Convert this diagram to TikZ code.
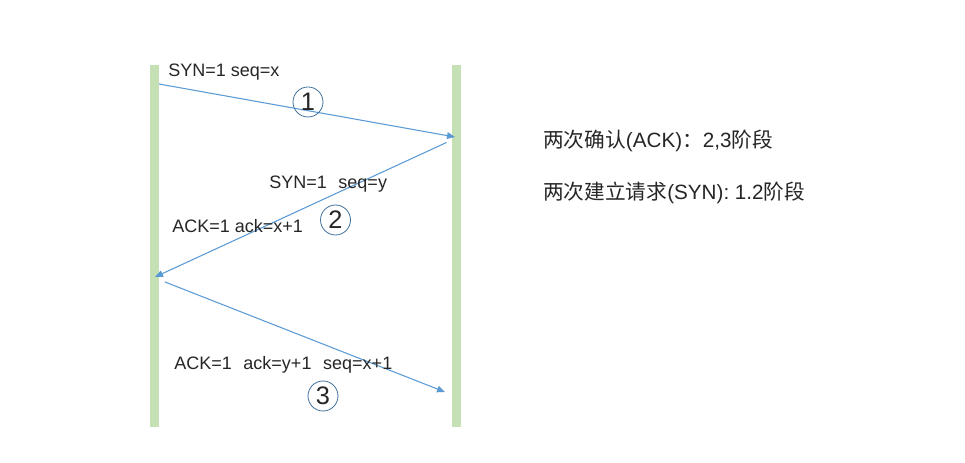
\documentclass[tikz,border=0pt]{standalone}
\usepackage{fontspec}
\setmainfont{Liberation Sans}
\newfontfamily\cjk{Noto Sans CJK SC}
\usetikzlibrary{arrows.meta}
\definecolor{barg}{HTML}{C5E0B4}
\definecolor{arrb}{HTML}{5B9BD5}
\definecolor{circb}{HTML}{41719C}
\newcommand\gp{\hspace{0.65em}}
\tikzset{
  bar/.style={draw=none,fill=barg,minimum width=6.75pt,minimum height=271.5pt,inner sep=0pt},
  msg/.style={draw=arrb,line width=0.8pt,-{Triangle[length=6pt,width=5pt]}},
  lab/.style={anchor=base west,inner sep=0pt,font=\fontsize{13.5pt}{15pt}\selectfont,text=black!85},
  num/.style={circle,draw=circb,line width=0.6pt,minimum size=22.5pt,inner sep=0pt,font=\fontsize{19pt}{20pt}\selectfont,text=black!85},
  note/.style={anchor=base west,inner sep=0pt,font=\fontsize{15.5pt}{17pt}\selectfont,text=black!85}
}
\begin{document}
\begin{tikzpicture}[x=0.75pt,y=-0.75pt]
\useasboundingbox[fill=white] (0,0) rectangle (965,463);
\node[bar] (L) at (154.5,246) {};
\node[bar] (R) at (456,246) {};
\coordinate (a1) at (159,84);
\coordinate (b1) at (455,137);
\coordinate (a2) at (446.5,142.5);
\coordinate (b2) at (155,277);
\coordinate (a3) at (165,282);
\coordinate (b3) at (445,392);
\draw[msg] (a1) -- (b1);
\draw[msg] (a2) -- (b2);
\draw[msg] (a3) -- (b3);
\node[num] (c1) at (308,102) {1};
\node[num] (c2) at (335.5,220) {2};
\node[num] (c3) at (323,396) {3};
\node[lab] (t1) at (168,77) {SYN=1 seq=x};
\node[lab] (t2) at (269,189) {SYN=1\gp seq=y};
\node[lab] (t3) at (172,233) {ACK=1 ack=x+1};
\node[lab] (t4) at (174,370) {ACK=1\gp ack=y+1\gp seq=x+1};
\node[note] (n1) at (543,148) {{\cjk 两次确认}(ACK){\cjk ：}2,3{\cjk 阶段}};
\node[note] (n2) at (543,200) {{\cjk 两次建立请求}(SYN): 1.2{\cjk 阶段}};
\end{tikzpicture}
\end{document}
